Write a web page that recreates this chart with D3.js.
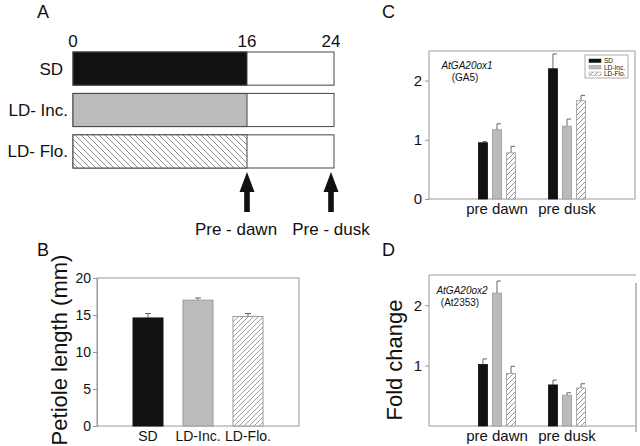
<!DOCTYPE html>
<html><head><meta charset="utf-8">
<script src="https://cdn.jsdelivr.net/npm/d3@7"></script>
<style>body{margin:0;background:#fff}svg{display:block;font-family:"Liberation Sans",Arial,sans-serif}</style>
</head><body><svg id="c" width="640" height="446"></svg>
<script>
// ---- data ----
const rows = ["SD", "LD- Inc.", "LD- Flo."];
const darkHours = [16, 16, 16];
const dayLength = 24;
const hourTicks = [0, 16, 24];
const samplingHours = [16, 24];
const samplingLabels = ["Pre - dawn", "Pre - dusk"];

const genotypes = ["SD", "LD-Inc.", "LD-Flo."];
const petiole = [14.6, 17.0, 14.8];
const petioleErr = [0.6, 0.3, 0.4];
const petioleTicks = [0, 5, 10, 15, 20];

const times = ["pre dawn", "pre dusk"];
const ga5 = [[0.95, 1.17, 0.78], [2.2, 1.23, 1.66]];
const ga5Err = [[0.02, 0.10, 0.11], [0.25, 0.12, 0.09]];
const ga5Ticks = [0, 1, 2];
const ox2 = [[1.02, 2.2, 0.87], [0.68, 0.51, 0.63]];
const ox2Err = [[0.09, 0.2, 0.12], [0.08, 0.04, 0.07]];
const ox2Ticks = [1, 2];

const svg = d3.select("#c");
svg.append("rect").attr("width",640).attr("height",446).attr("fill","#fff");
const defs = svg.append("defs");
function hatch(id, size, dir, col){
  const p = defs.append("pattern").attr("id",id).attr("patternUnits","userSpaceOnUse")
    .attr("width",size).attr("height",size);
  p.append("rect").attr("width",size).attr("height",size).attr("fill","#fff");
  if(dir>0){
    p.append("path").attr("d",`M0,${size} L${size},0 M${-size/2},${size/2} L${size/2},${-size/2} M${size/2},${size*1.5} L${size*1.5},${size/2}`)
  } else {
    p.append("path").attr("d",`M0,0 L${size},${size} M${-size/2},${size/2} L${size/2},${size*1.5} M${size/2},${-size/2} L${size*1.5},${size/2}`)
  }
  p.select("path").attr("stroke",col).attr("stroke-width",0.8);
}
hatch("hA", 6, -1, "#777");
hatch("hB", 5, 1, "#888");
hatch("hC", 5, 1, "#777");

const fills = ["#111", "#bbb", "url(#hB)"];
const strokes = ["#111", "#999", "#999"];

function panelLetter(t, x, y){
  svg.append("text").attr("x",x).attr("y",y).attr("font-size",18).attr("fill","#111").text(t);
}
panelLetter("A",37,18); panelLetter("B",37,256); panelLetter("C",382,18); panelLetter("D",382,256);

// ---- Panel A ----
const xA = d3.scaleLinear().domain([0, dayLength]).range([73, 334]);
const yA = d3.scaleBand().domain(rows).range([52, 168]).paddingInner(0.2);
const gA = svg.append("g");
gA.selectAll("rect.full").data(rows).join("rect")
  .attr("x", xA(0)).attr("y", d=>yA(d)).attr("width", xA(dayLength)-xA(0)).attr("height", yA.bandwidth())
  .attr("fill","#fff").attr("stroke","#444").attr("stroke-width",1);
const aFills = ["#111", "#bbb", "url(#hA)"];
gA.selectAll("rect.dark").data(rows).join("rect")
  .attr("x", xA(0)).attr("y", d=>yA(d)).attr("width", (d,i)=>xA(darkHours[i])-xA(0)).attr("height", yA.bandwidth())
  .attr("fill",(d,i)=>aFills[i]).attr("stroke","#444").attr("stroke-width",1);
gA.selectAll("text.tick").data(hourTicks).join("text")
  .attr("x", d=> d===dayLength ? xA(d)-3 : xA(d)).attr("y", 47).attr("text-anchor","middle")
  .attr("font-size",17).attr("fill","#111").text(d=>d);
const rowLabelX = [63, 68, 68];
gA.selectAll("text.row").data(rows).join("text")
  .attr("x",(d,i)=>rowLabelX[i]).attr("y", d=>yA(d)+yA.bandwidth()/2+6).attr("text-anchor","end")
  .attr("font-size",17).attr("fill","#111").text(d=>d);
const labelShift = [-11, 0];
samplingHours.forEach((h,i)=>{
  const x = xA(h) - (h===dayLength?3:0);
  const top = 172, base = 192, bot = 212;
  gA.append("path").attr("d",`M${x},${top} L${x+7.5},${base} L${x+2.8},${base} L${x+2.8},${bot} L${x-2.8},${bot} L${x-2.8},${base} L${x-7.5},${base} Z`)
    .attr("fill","#111");
  gA.append("text").attr("x",x+labelShift[i]).attr("y",235).attr("text-anchor","middle").attr("font-size",17)
    .attr("fill","#111").text(samplingLabels[i]);
});

// ---- Panel B ----
const xB = d3.scaleBand().domain(genotypes).range([97, 299]).paddingInner(0.4).paddingOuter(0.72);
const yB = d3.scaleLinear().domain([0, 20]).range([426, 278]);
const gB = svg.append("g");
gB.append("rect").attr("x",97).attr("y",278).attr("width",202).attr("height",148)
  .attr("fill","none").attr("stroke","#999").attr("stroke-width",1);
gB.append("g").attr("transform","translate(97,0)")
  .call(d3.axisLeft(yB).tickValues(petioleTicks).tickSize(4).tickPadding(2))
  .call(g=>{g.select(".domain").attr("stroke","#999");g.selectAll("line").attr("stroke","#999");
    g.selectAll("text").attr("font-size",14).attr("fill","#111").attr("font-family","Liberation Sans, Arial");});
gB.selectAll("line.err").data(genotypes).join("line")
  .attr("x1",d=>xB(d)+xB.bandwidth()/2).attr("x2",d=>xB(d)+xB.bandwidth()/2)
  .attr("y1",(d,i)=>yB(petiole[i])).attr("y2",(d,i)=>yB(petiole[i]+petioleErr[i])).attr("stroke","#666");
gB.selectAll("line.cap").data(genotypes).join("line")
  .attr("x1",d=>xB(d)+xB.bandwidth()/2-3).attr("x2",d=>xB(d)+xB.bandwidth()/2+3)
  .attr("y1",(d,i)=>yB(petiole[i]+petioleErr[i])).attr("y2",(d,i)=>yB(petiole[i]+petioleErr[i])).attr("stroke","#666");
gB.selectAll("rect.bar").data(genotypes).join("rect")
  .attr("x",d=>xB(d)).attr("width",xB.bandwidth())
  .attr("y",(d,i)=>yB(petiole[i])).attr("height",(d,i)=>yB(0)-yB(petiole[i]))
  .attr("fill",(d,i)=>fills[i]).attr("stroke",(d,i)=>strokes[i]).attr("stroke-width",1);
gB.selectAll("text.cat").data(genotypes).join("text")
  .attr("x",d=>xB(d)+xB.bandwidth()/2).attr("y",441).attr("text-anchor","middle")
  .attr("font-size",14).attr("fill","#111").text(d=>d);
gB.append("text").attr("transform","translate(67,350) rotate(-90)").attr("text-anchor","middle")
  .attr("font-size",22).attr("fill","#111").text("Petiole length (mm)");

// ---- Panels C & D ----
function groupPanel(data, err, ticks, top, bottom, right, gene, alias, geneX, geneY, legend, boxed){
  const x0 = d3.scaleBand().domain(times).range([429, 635]).paddingInner(0.4286).paddingOuter(0.6857);
  const x1 = d3.scaleBand().domain(genotypes).range([0, x0.bandwidth()]).paddingInner(0.35).paddingOuter(0.1);
  const y = d3.scaleLinear().domain([0, 2.5]).range([bottom, top]);
  const g = svg.append("g");
  if(boxed){
    g.append("rect").attr("x",429).attr("y",top).attr("width",right-429).attr("height",bottom-top)
      .attr("fill","none").attr("stroke","#999");
  } else {
    g.append("path").attr("d",`M429,${bottom} L429,${top} L${right},${top}`).attr("fill","none").attr("stroke","#999");
    g.append("line").attr("x1",429).attr("x2",right+1).attr("y1",bottom).attr("y2",bottom).attr("stroke","#999");
    g.append("line").attr("x1",right).attr("x2",right).attr("y1",top+8).attr("y2",bottom+6).attr("stroke","#aaa").attr("stroke-width",1.5);
  }
  g.append("g").attr("transform","translate(429,0)")
    .call(d3.axisLeft(y).tickValues(ticks).tickSize(4).tickPadding(3).tickFormat(d3.format("d")))
    .call(a=>{a.select(".domain").remove();a.selectAll("line").attr("stroke","#999");
      a.selectAll("text").attr("font-size",15).attr("fill","#111").attr("font-family","Liberation Sans, Arial");});
  times.forEach((t,ti)=>{
    const gg = g.append("g").attr("transform",`translate(${x0(t)},0)`);
    gg.selectAll("line.err").data(genotypes).join("line")
      .attr("x1",d=>x1(d)+x1.bandwidth()/2).attr("x2",d=>x1(d)+x1.bandwidth()/2)
      .attr("y1",(d,i)=>y(data[ti][i])).attr("y2",(d,i)=>y(data[ti][i]+err[ti][i])).attr("stroke","#666");
    gg.selectAll("line.cap").data(genotypes).join("line")
      .attr("x1",d=>x1(d)+x1.bandwidth()/2).attr("x2",d=>x1(d)+x1.bandwidth()/2+4)
      .attr("y1",(d,i)=>y(data[ti][i]+err[ti][i])).attr("y2",(d,i)=>y(data[ti][i]+err[ti][i])).attr("stroke","#666");
    gg.selectAll("rect").data(genotypes).join("rect")
      .attr("x",d=>x1(d)).attr("width",x1.bandwidth())
      .attr("y",(d,i)=>y(data[ti][i])).attr("height",(d,i)=>y(0)-y(data[ti][i]))
      .attr("fill",(d,i)=>i===2?"url(#hC)":fills[i]).attr("stroke",(d,i)=>strokes[i]).attr("stroke-width",0.8);
  });
  g.selectAll("text.cat").data(times).join("text")
    .attr("x",d=>x0(d)+x0.bandwidth()/2).attr("y",bottom+15).attr("text-anchor","middle")
    .attr("font-size",15).attr("fill","#111").text(d=>d);
  g.append("text").attr("x",geneX).attr("y",geneY).attr("text-anchor","middle").attr("font-size",10)
    .attr("font-style","italic").attr("fill","#111").text(gene);
  g.append("text").attr("x",geneX-2).attr("y",geneY+12).attr("text-anchor","middle").attr("font-size",10)
    .attr("fill","#111").text(alias);
  if(legend){
    const lg = g.append("g");
    lg.append("rect").attr("x",585).attr("y",55).attr("width",43).attr("height",23).attr("fill","#fff").attr("stroke","#999").attr("stroke-width",0.8);
    genotypes.forEach((s,i)=>{
      const yy = 59 + i*6.5;
      lg.append("rect").attr("x",589).attr("y",yy).attr("width",12).attr("height",3.5)
        .attr("fill",i===2?"url(#hC)":fills[i]).attr("stroke",strokes[i]).attr("stroke-width",0.5);
      lg.append("text").attr("x",604).attr("y",yy+4).attr("font-size",6.5).attr("fill","#111").text(s);
    });
  }
}
groupPanel(ga5, ga5Err, ga5Ticks, 51, 199, 635, "AtGA20ox1", "(GA5)", 467, 69, true, true);
groupPanel(ox2, ox2Err, ox2Ticks, 275, 426, 636, "AtGA20ox2", "(At2353)", 462, 294, false, false);
svg.append("text").attr("transform","translate(402,360) rotate(-90)").attr("text-anchor","middle")
  .attr("font-size",22).attr("fill","#111").text("Fold change");
</script></body></html>
